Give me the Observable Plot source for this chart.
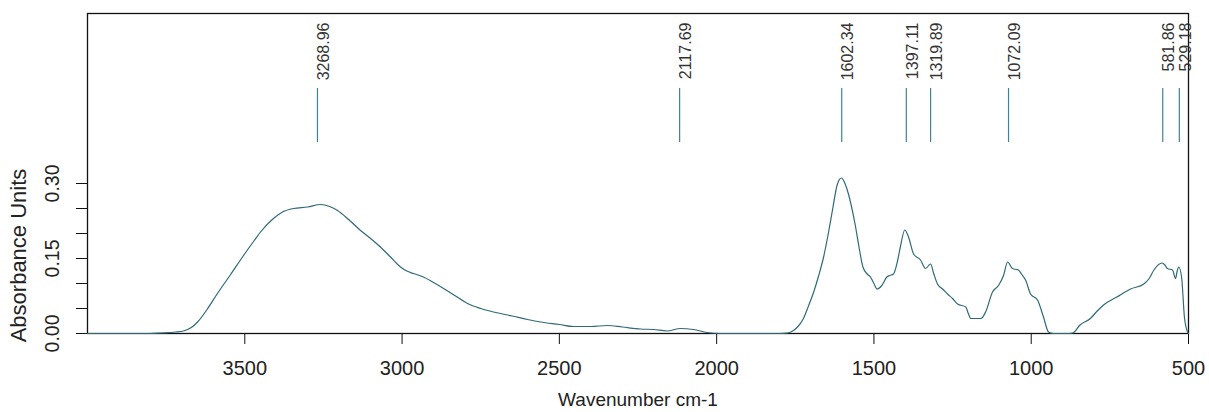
<!DOCTYPE html>
<html>
<head>
<meta charset="utf-8">
<script src="https://cdn.jsdelivr.net/npm/d3@7"></script>
<script src="https://cdn.jsdelivr.net/npm/@observablehq/plot@0.6"></script>
<style>
  html, body { margin: 0; padding: 0; background: #fff; }
  #chart svg { display: block; }
</style>
</head>
<body>
<div id="chart"></div>
<script>
// Spectrum: wavenumber (cm-1) and absorbance
const wavenumber = [4000, 3800, 3768, 3720, 3695, 3670, 3650, 3620, 3587, 3545, 3504, 3470, 3450, 3409, 3380, 3345, 3300, 3259, 3230, 3205, 3170, 3132, 3100, 3069, 3040, 3005, 2985, 2964, 2932, 2900, 2868, 2830, 2792, 2750, 2709, 2650, 2601, 2560, 2500, 2455, 2400, 2347, 2300, 2242, 2200, 2157, 2115, 2074, 2030, 1988, 1800, 1775, 1756, 1740, 1724, 1708, 1692, 1676, 1660, 1645, 1632, 1616, 1603, 1592, 1581, 1570, 1560, 1548, 1535, 1520, 1511, 1500, 1490, 1475, 1459, 1450, 1438, 1425, 1416, 1402, 1390, 1374, 1352, 1336, 1320, 1310, 1298, 1280, 1266, 1250, 1234, 1208, 1200, 1192, 1160, 1145, 1123, 1104, 1088, 1075, 1060, 1041, 1030, 1018, 1002, 980, 961, 945, 930, 880, 868, 845, 812, 790, 770, 728, 684, 642, 625, 610, 584, 575, 567, 551, 541, 536, 531, 522, 513, 503, 500];
const absorbance = [0, 0, 0.001, 0.003, 0.005, 0.012, 0.023, 0.048, 0.08, 0.118, 0.156, 0.186, 0.203, 0.23, 0.243, 0.25, 0.253, 0.258, 0.254, 0.246, 0.228, 0.206, 0.19, 0.173, 0.155, 0.133, 0.125, 0.12, 0.113, 0.102, 0.09, 0.075, 0.06, 0.05, 0.043, 0.035, 0.028, 0.023, 0.018, 0.014, 0.014, 0.016, 0.013, 0.009, 0.008, 0.005, 0.01, 0.008, 0.002, 0, 0, 0.001, 0.006, 0.015, 0.03, 0.055, 0.082, 0.115, 0.153, 0.2, 0.246, 0.299, 0.311, 0.3, 0.279, 0.25, 0.219, 0.175, 0.133, 0.118, 0.113, 0.1, 0.089, 0.096, 0.113, 0.116, 0.119, 0.145, 0.173, 0.207, 0.193, 0.159, 0.147, 0.13, 0.139, 0.12, 0.099, 0.088, 0.079, 0.07, 0.059, 0.053, 0.04, 0.03, 0.03, 0.043, 0.083, 0.096, 0.116, 0.143, 0.13, 0.127, 0.118, 0.107, 0.079, 0.067, 0.033, 0.003, 0, 0, 0.001, 0.017, 0.03, 0.045, 0.057, 0.073, 0.089, 0.099, 0.11, 0.127, 0.141, 0.137, 0.13, 0.127, 0.11, 0.125, 0.133, 0.113, 0.033, 0.003, 0];

// Annotated peaks
const peaks = [3268.96, 2117.69, 1602.34, 1397.11, 1319.89, 1072.09, 581.86, 529.18];

// Axis ticks
const xTicks = [3500, 3000, 2500, 2000, 1500, 1000, 500];
const yTicks = [0, 0.05, 0.10, 0.15, 0.20, 0.25, 0.30];
const yTickLabels = [0, 0.15, 0.30];

const spectrum = wavenumber.map((w, i) => ({w, a: absorbance[i]}));

const FONT = "'Liberation Sans', Arial, Helvetica, sans-serif";
const LINE = "#2f6a76";
const PEAK = "#3f8494";

const chart = Plot.plot({
  width: 1209,
  height: 412,
  marginLeft: 87,
  marginRight: 21,
  marginTop: 13,
  marginBottom: 79,
  style: {fontFamily: FONT, background: "#fff", color: "#222"},
  x: {domain: [4000, 500]},
  y: {domain: [0, 0.64]},
  marks: [
    Plot.frame({stroke: "#111", strokeWidth: 1.3}),
    Plot.axisX({ticks: xTicks, tickSize: 11, tickPadding: 16, fontSize: 20,
      tickFormat: d => String(d), label: null, stroke: "#111"}),
    Plot.text(["Wavenumber cm-1"], {frameAnchor: "bottom", dy: 66, fontSize: 19,
      fill: "#222", lineAnchor: "middle", textAnchor: "middle"}),
    Plot.axisY({ticks: yTicks, tickSize: 11, tickFormat: () => "", label: null, stroke: "#111"}),
    Plot.text(yTickLabels, {y: d => d, text: d => d.toFixed(2), frameAnchor: "left",
      textAnchor: "middle", dx: -35, rotate: -90, fontSize: 19.5, fill: "#222"}),
    Plot.text(["Absorbance Units"], {frameAnchor: "left", textAnchor: "middle",
      dx: -69, dy: 82, rotate: -90, fontSize: 22, fill: "#222"}),
    Plot.ruleX(peaks, {x: d => d, y1: 0.382, y2: 0.49, stroke: PEAK, strokeWidth: 1.2}),
    Plot.text(peaks, {x: d => d, text: d => d.toFixed(2), frameAnchor: "top", dy: 9,
      rotate: -90, textAnchor: "end", fontSize: 16, fill: "#333"}),
    Plot.line(spectrum, {x: "w", y: "a", stroke: LINE, strokeWidth: 1.2, curve: "monotone-x"})
  ]
});
document.getElementById("chart").appendChild(chart);
</script>
</body>
</html>
